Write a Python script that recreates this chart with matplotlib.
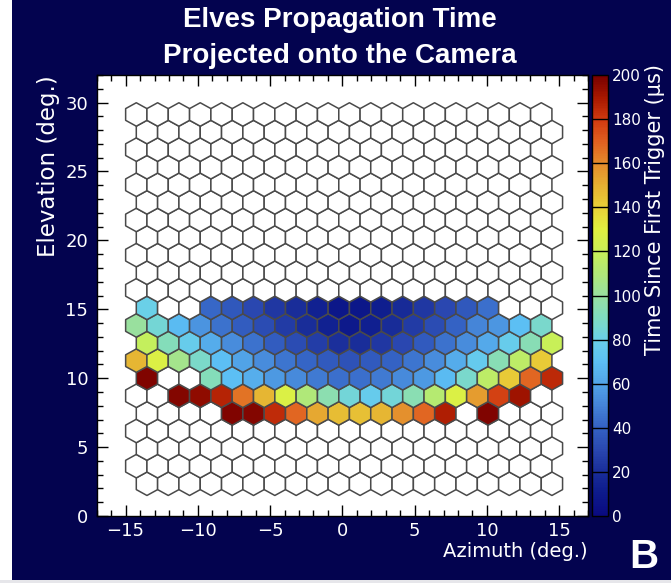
import numpy as np
import matplotlib
matplotlib.use("Agg")
import matplotlib.pyplot as plt
from matplotlib.collections import PolyCollection
from matplotlib.colors import LinearSegmentedColormap, Normalize
from matplotlib.patches import Rectangle
from matplotlib.ticker import MultipleLocator

# ---- camera layout: 22 rows x 20 columns of hexagonal pixels ----
N_ROWS = 22
N_COLS = 20
PIX_AZ = 1.475      # azimuthal width of one pixel (deg)
ROW_STEP = 1.276    # elevation step between pixel rows (deg)
EL0 = 2.34          # elevation of the lowest row (deg)
AZ0 = -14.26        # azimuth of the first pixel in odd rows (deg)

# ---- propagation time (us) of triggered pixels, by row (0 = bottom) ----
N = None
time_row4 = [N, N, N, N, 198, 197, 184, 168, 152, 146, 145, 148, 158, 168, 188, N, 198, N, N, N]
time_row5 = [N, N, 197, 195, 186, 165, 148, 128, 110, 95, 84, 77, 84, 94, 112, 128, 155, 178, 192, N]
time_row6 = [198, N, N, 92, 70, 64, 57, 52, 47, 44, 44, 47, 52, 57, 68, 87, 115, 142, 168, 185]
time_row7 = [148, 128, 105, 88, 70, 60, 53, 46, 41, 37, 34, 37, 40, 46, 53, 63, 76, 93, 115, 142]
time_row8 = [118, 92, 78, 63, 53, 45, 38, 32, 26, 21, 20, 24, 30, 37, 45, 53, 62, 78, 93, 120]
time_row9 = [100, 85, 68, 55, 45, 38, 32, 25, 20, 14, 10, 13, 19, 25, 32, 40, 50, 56, 70, 87]
time_row10 = [80, N, N, 42, 36, 30, 24, 20, 14, 8, 8, 12, 18, 24, 30, 36, 44, N, N, N]
triggered_rows = {4: time_row4, 5: time_row5, 6: time_row6, 7: time_row7,
                  8: time_row8, 9: time_row9, 10: time_row10}

cbar_ticks = list(range(0, 201, 20))

# ---- palette ----
palette = ["#0a0a80", "#0d1a8c", "#1a2e9a", "#2a48b0", "#3462c4", "#4584d8",
           "#52a4e8", "#5cc0f4", "#6ad0e8", "#80dcc0", "#98e0a0", "#b0e878",
           "#c8f058", "#e0f040", "#e8d038", "#e6b032", "#e48a2c", "#e06020",
           "#d03a10", "#a81800", "#780000"]
cmap = LinearSegmentedColormap.from_list("elves", palette, N=256)
cmap.set_bad("white")
norm = Normalize(0, 200)

NAVY = "#03034f"
plt.rcParams["font.family"] = ["DejaVu Sans"]

fig = plt.figure(figsize=(6.71, 5.83), dpi=100, facecolor=NAVY)
W, H = 671.0, 583.0

# left white margin and bottom light strip of the page
fig.add_artist(Rectangle((0, 0), 12 / W, 1, transform=fig.transFigure,
                         facecolor="white", edgecolor="none", zorder=-5))
fig.add_artist(Rectangle((0, 0), 1, 3 / H, transform=fig.transFigure,
                         facecolor="#e6e6ea", edgecolor="none", zorder=-5))

ax = fig.add_axes([96.7 / W, 1 - 516 / H, (588 - 96.7) / W, (516 - 75) / H])
ax.set_facecolor("white")

# build hexagon outlines for every pixel
rx = PIX_AZ / np.sqrt(3.0)
ry = ROW_STEP / 1.5
ang = np.deg2rad([90, 150, 210, 270, 330, 30])
hexes, vals = [], []
for r in range(N_ROWS):
    el = EL0 + r * ROW_STEP
    shift = PIX_AZ / 2 if r % 2 == 0 else 0.0
    row_vals = triggered_rows.get(r, [None] * N_COLS)
    for c in range(N_COLS):
        az = AZ0 + shift + c * PIX_AZ
        hexes.append(np.column_stack([az + rx * np.cos(ang), el + ry * np.sin(ang)]))
        v = row_vals[c]
        vals.append(np.nan if v is None else v)

vals = np.ma.masked_invalid(np.array(vals, dtype=float))
pc = PolyCollection(hexes, cmap=cmap, norm=norm, edgecolors="#4a4a4a", linewidths=1.1)
pc.set_array(vals)
ax.add_collection(pc)

ax.set_xlim(-17, 17)
ax.set_ylim(0, 32)
ax.xaxis.set_major_locator(MultipleLocator(5))
ax.xaxis.set_minor_locator(MultipleLocator(1))
ax.yaxis.set_major_locator(MultipleLocator(5))
ax.yaxis.set_minor_locator(MultipleLocator(1))
ax.tick_params(which="both", direction="in", top=True, right=True,
               color="black", labelcolor="white", width=1.0)
ax.tick_params(which="major", length=8, labelsize=13)
ax.tick_params(which="minor", length=4)
ax.tick_params(axis="x", pad=4)
ax.tick_params(axis="y", pad=6)
for s in ax.spines.values():
    s.set_color("black")
    s.set_linewidth(1.0)

ax.set_xlabel("Azimuth (deg.)", color="white", fontsize=14, loc="right", labelpad=2)
ax.set_ylabel("Elevation (deg.)", color="white", fontsize=16.5, loc="top", labelpad=4)

# colour scale
cax = fig.add_axes([592 / W, 1 - 516 / H, 16 / W, (516 - 75) / H])
cb = fig.colorbar(pc, cax=cax)
cb.set_ticks(cbar_ticks)
cax.tick_params(length=0, labelcolor="white", labelsize=11, pad=3)
for t in cbar_ticks[1:-1]:
    cax.axhline(t, color="black", lw=1.0)
cb.outline.set_edgecolor("black")
cb.outline.set_linewidth(1.0)
fig.text(655 / W, 1 - 64 / H, "Time Since First Trigger (\u03bcs)", rotation=90,
         ha="center", va="top", color="white", fontsize=15)

title_font = ["Liberation Sans", "DejaVu Sans"]
fig.text(340 / W, 1 - 20 / H, "Elves Propagation Time", ha="center", va="center",
         color="white", fontsize=20, fontweight="bold", family=title_font)
fig.text(340 / W, 1 - 56 / H, "Projected onto the Camera", ha="center", va="center",
         color="white", fontsize=20, fontweight="bold", family=title_font)
fig.text(644 / W, 1 - 557 / H, "B", ha="center", va="center",
         color="white", fontsize=29, fontweight="bold", family=title_font)

fig.savefig("out.png", dpi=100, facecolor=NAVY)
